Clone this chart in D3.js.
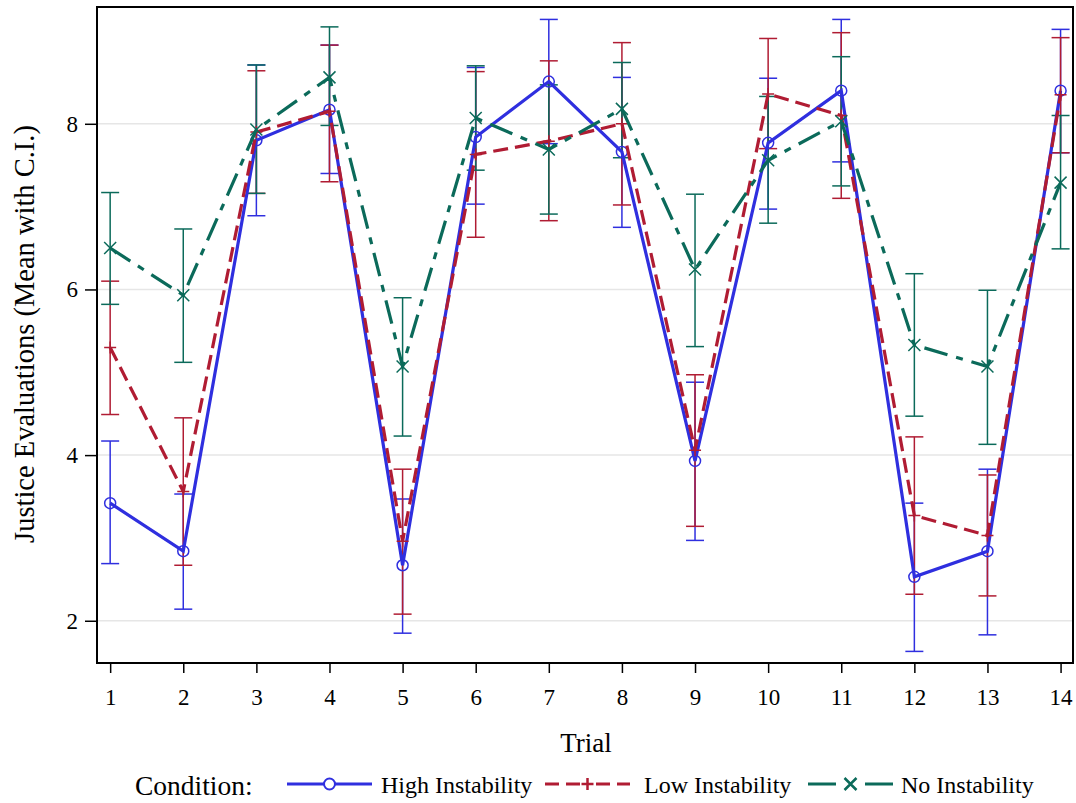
<!DOCTYPE html>
<html>
<head>
<meta charset="utf-8">
<script src="https://cdn.jsdelivr.net/npm/d3@7"></script>
<style>
  body { margin: 0; background: #fff; }
  svg text { font-family: "Liberation Serif", "Times New Roman", serif; fill: #000; }
</style>
</head>
<body>
<div id="chart"></div>
<script>
"use strict";

// trial numbers
var trials = [1, 2, 3, 4, 5, 6, 7, 8, 9, 10, 11, 12, 13, 14];
var yTicks = [2, 4, 6, 8];

// High Instability
var highMean = [3.42, 2.84, 7.80, 8.17, 2.67, 7.84, 8.51, 7.66, 3.93, 7.77, 8.40, 2.53, 2.84, 8.40];
var highLo   = [2.69, 2.14, 6.89, 7.40, 1.85, 7.03, 7.76, 6.75, 2.97, 6.97, 7.54, 1.63, 1.83, 7.65];
var highHi   = [4.17, 3.53, 8.71, 8.95, 3.47, 8.68, 9.26, 8.56, 4.88, 8.55, 9.26, 3.42, 3.83, 9.14];

// Low Instability
var lowMean = [5.30, 3.56, 7.90, 8.15, 2.96, 7.63, 7.79, 8.00, 4.06, 8.36, 8.10, 3.27, 3.03, 8.35];
var lowLo   = [4.49, 2.67, 7.16, 7.30, 2.08, 6.63, 6.83, 7.02, 3.14, 7.70, 7.10, 2.32, 2.30, 7.65];
var lowHi   = [6.10, 4.45, 8.64, 8.95, 3.83, 8.63, 8.76, 8.98, 4.97, 9.03, 9.10, 4.22, 3.76, 9.04];

// No Instability
var noMean = [6.50, 5.93, 7.93, 8.56, 5.07, 8.07, 7.69, 8.18, 6.24, 7.56, 8.03, 5.33, 5.07, 7.29];
var noLo   = [5.82, 5.12, 7.16, 7.98, 4.23, 7.44, 6.91, 7.59, 5.31, 6.80, 7.25, 4.47, 4.13, 6.49];
var noHi   = [7.17, 6.73, 8.71, 9.17, 5.90, 8.70, 8.47, 8.74, 7.15, 8.33, 8.81, 6.19, 5.99, 8.10];

var groups = [
  { name: "High Instability", mean: highMean, lo: highLo, hi: highHi, color: "#2f2fdf", dash: null, marker: "circle", lx: 287, tx: 381, legendDash: null },
  { name: "Low Instability", mean: lowMean, lo: lowLo, hi: lowHi, color: "#b01c33", dash: "15,7", marker: "plus", lx: 545, tx: 644, legendDash: "14,7,14,16,14,7,14" },
  { name: "No Instability", mean: noMean, lo: noLo, hi: noHi, color: "#0b6a5a", dash: "24,9,7,9", marker: "x", lx: 808, tx: 901, legendDash: "28,29,28" }
];

var width = 1076, height = 803;
var box = { left: 97, right: 1073, top: 7, bottom: 663 };

var svg = d3.select("#chart").append("svg")
  .attr("width", width)
  .attr("height", height);

var x = d3.scaleLinear().domain([0.82, 14.17]).range([box.left, box.right]);
var y = d3.scaleLinear().domain([1.49, 9.41]).range([box.bottom, box.top]);

// grid lines
svg.append("g").selectAll("line").data(yTicks).join("line")
  .attr("x1", box.left).attr("x2", box.right)
  .attr("y1", d => y(d)).attr("y2", d => y(d))
  .attr("stroke", "#e6e6e6").attr("stroke-width", 1.5);

// axes
var xAxis = svg.append("g")
  .attr("transform", "translate(0," + box.bottom + ")")
  .call(d3.axisBottom(x).tickValues(trials).tickFormat(d3.format("d")).tickSize(10).tickPadding(16));
var yAxis = svg.append("g")
  .attr("transform", "translate(" + box.left + ",0)")
  .call(d3.axisLeft(y).tickValues(yTicks).tickSize(12).tickPadding(7));
[xAxis, yAxis].forEach(function (a) {
  a.select(".domain").remove();
  a.selectAll("line").attr("stroke", "#000").attr("stroke-width", 1.5);
  a.selectAll("text").attr("font-size", 23).attr("font-family", "Liberation Serif, serif");
});

var plot = svg.append("g");

// error bars
groups.forEach(function (g) {
  var bars = plot.append("g").attr("stroke", g.color).attr("stroke-width", 1.5);
  trials.forEach(function (t, i) {
    var cx = x(t);
    bars.append("line").attr("x1", cx).attr("x2", cx).attr("y1", y(g.lo[i])).attr("y2", y(g.hi[i]));
    bars.append("line").attr("x1", cx - 9).attr("x2", cx + 9).attr("y1", y(g.lo[i])).attr("y2", y(g.lo[i]));
    bars.append("line").attr("x1", cx - 9).attr("x2", cx + 9).attr("y1", y(g.hi[i])).attr("y2", y(g.hi[i]));
  });
});

var line = d3.line().x(d => x(d[0])).y(d => y(d[1]));

function drawMarker(sel, type, color, cx, cy, sw) {
  sw = sw || 1.5;
  if (type === "circle") {
    sel.append("circle").attr("cx", cx).attr("cy", cy).attr("r", 5.5)
      .attr("fill", "none").attr("stroke", color).attr("stroke-width", sw);
  } else if (type === "plus") {
    sel.append("path").attr("d", "M" + (cx - 6) + "," + cy + "H" + (cx + 6) + "M" + cx + "," + (cy - 6) + "V" + (cy + 6))
      .attr("stroke", color).attr("stroke-width", sw).attr("fill", "none");
  } else {
    sel.append("path").attr("d", "M" + (cx - 6) + "," + (cy - 6) + "L" + (cx + 6) + "," + (cy + 6) + "M" + (cx - 6) + "," + (cy + 6) + "L" + (cx + 6) + "," + (cy - 6))
      .attr("stroke", color).attr("stroke-width", sw).attr("fill", "none");
  }
}

// mean lines and markers
groups.forEach(function (g) {
  var pts = trials.map((t, i) => [t, g.mean[i]]);
  plot.append("path").datum(pts)
    .attr("d", line)
    .attr("fill", "none")
    .attr("stroke", g.color)
    .attr("stroke-width", 3.2)
    .attr("stroke-dasharray", g.dash);
  var mk = plot.append("g");
  pts.forEach(p => drawMarker(mk, g.marker, g.color, x(p[0]), y(p[1])));
});

// frame
svg.append("rect")
  .attr("x", box.left).attr("y", box.top)
  .attr("width", box.right - box.left).attr("height", box.bottom - box.top)
  .attr("fill", "none").attr("stroke", "#000").attr("stroke-width", 2);

// axis titles
svg.append("text")
  .attr("x", 586).attr("y", 752)
  .attr("text-anchor", "middle").attr("font-size", 27)
  .text("Trial");
svg.append("text")
  .attr("transform", "translate(34,334) rotate(-90)")
  .attr("text-anchor", "middle").attr("font-size", 28.5)
  .text("Justice Evaluations (Mean with C.I.)");

// legend
var lg = svg.append("g");
lg.append("text").attr("x", 135).attr("y", 795).attr("font-size", 27.5).text("Condition:");
groups.forEach(function (g) {
  var ly = 784;
  lg.append("line").attr("x1", g.lx).attr("x2", g.lx + 85).attr("y1", ly).attr("y2", ly)
    .attr("stroke", g.color).attr("stroke-width", 3.2)
    .attr("stroke-dasharray", g.legendDash);
  if (g.marker === "circle") {
    lg.append("circle").attr("cx", g.lx + 42.5).attr("cy", ly).attr("r", 5.5).attr("fill", "#fff");
  }
  drawMarker(lg, g.marker, g.color, g.lx + 42.5, ly, g.marker === "circle" ? 2 : 2.5);
  lg.append("text").attr("x", g.tx).attr("y", 793).attr("font-size", 24).text(g.name);
});
</script>
</body>
</html>
